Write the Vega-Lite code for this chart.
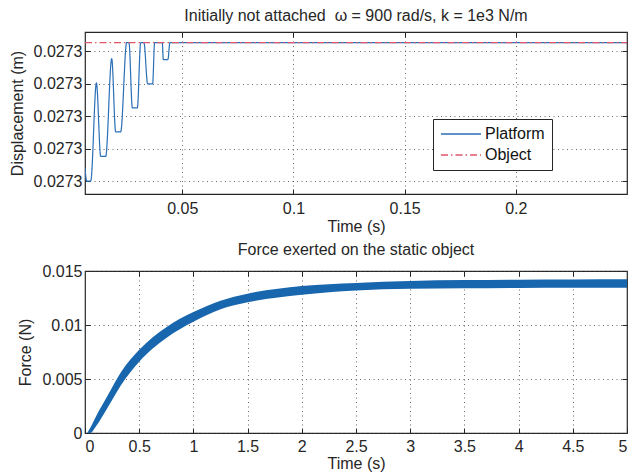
{
  "$schema": "https://vega.github.io/schema/vega-lite/v6.json",
  "background": "white",
  "padding": {"left": 8, "top": 6, "right": 2, "bottom": 2},
  "config": {
    "font": "Liberation Sans",
    "view": {"stroke": "#262626", "strokeWidth": 1.2},
    "axis": {
      "labelFont": "Liberation Sans", "labelFontSize": 16, "labelColor": "#262626",
      "titleFont": "Liberation Sans", "titleFontSize": 16, "titleFontWeight": "normal", "titleColor": "#262626",
      "domain": false, "tickColor": "#262626", "tickSize": -5, "tickWidth": 1,
      "gridColor": "#444444", "gridDash": [1, 3.5], "gridOpacity": 0.8, "gridWidth": 1
    },
    "title": {"font": "Liberation Sans", "fontSize": 16, "fontWeight": "normal", "color": "#262626", "offset": 8},
    "legend": {
      "orient": "none", "legendX": 348, "legendY": 87,
      "strokeColor": "#262626", "fillColor": "white", "padding": 7,
      "labelFont": "Liberation Sans", "labelFontSize": 16, "labelColor": "#111111", "labelOffset": 16,
      "symbolType": "M-8,0H8", "symbolSize": 25, "symbolOffset": 13, "symbolStrokeWidth": 1.3, "rowPadding": 5
    },
    "concat": {"spacing": 6}
  },
  "vconcat": [
    {
      "title": {"text": "Initially not attached\u00a0 ω = 900 rad/s, k = 1e3 N/m"},
      "width": 542,
      "height": 162,
      "data": {"values": [
        {"t": 0.00625, "d": 0.0272984, "series": "Platform"},
        {"t": 0.00703, "d": 0.027298, "series": "Platform"},
        {"t": 0.00883, "d": 0.027298, "series": "Platform"},
        {"t": 0.01139, "d": 0.02730103, "series": "Platform"},
        {"t": 0.01332, "d": 0.02729876, "series": "Platform"},
        {"t": 0.01556, "d": 0.02729876, "series": "Platform"},
        {"t": 0.01826, "d": 0.02730178, "series": "Platform"},
        {"t": 0.02005, "d": 0.02729952, "series": "Platform"},
        {"t": 0.0223, "d": 0.02729952, "series": "Platform"},
        {"t": 0.02499, "d": 0.02730227, "series": "Platform"},
        {"t": 0.02602, "d": 0.02730227, "series": "Platform"},
        {"t": 0.02755, "d": 0.02730026, "series": "Platform"},
        {"t": 0.0298, "d": 0.02730026, "series": "Platform"},
        {"t": 0.03128, "d": 0.02730227, "series": "Platform"},
        {"t": 0.03276, "d": 0.02730227, "series": "Platform"},
        {"t": 0.03442, "d": 0.027301, "series": "Platform"},
        {"t": 0.03666, "d": 0.027301, "series": "Platform"},
        {"t": 0.03756, "d": 0.02730227, "series": "Platform"},
        {"t": 0.04102, "d": 0.02730227, "series": "Platform"},
        {"t": 0.04147, "d": 0.02730175, "series": "Platform"},
        {"t": 0.04353, "d": 0.02730175, "series": "Platform"},
        {"t": 0.04443, "d": 0.02730227, "series": "Platform"},
        {"t": 0.25, "d": 0.02730227, "series": "Platform"},
        {"t": 0.00625, "d": 0.02730227, "series": "Object"},
        {"t": 0.25, "d": 0.02730227, "series": "Object"}
      ]},
      "layer": [
        {
          "transform": [{"filter": "datum.series === 'Platform'"}],
          "mark": {"type": "line", "interpolate": "monotone", "strokeWidth": 1.2, "clip": true},
          "encoding": {
            "x": {"field": "t", "type": "quantitative",
              "scale": {"domain": [0.00625, 0.25], "nice": false, "zero": false},
              "axis": {"values": [0.05, 0.1, 0.15, 0.2], "labelExpr": "toString(datum.value)", "title": "Time (s)", "labelPadding": 11, "titlePadding": 2}},
            "y": {"field": "d", "type": "quantitative",
              "scale": {"domain": [0.0272976, 0.0273026], "nice": false, "zero": false},
              "axis": {"values": [0.027298, 0.027299, 0.0273, 0.027301, 0.027302], "labelExpr": "format(datum.value, '.4f')", "title": "Displacement (m)", "labelPadding": 8, "titlePadding": 8}},
            "color": {"field": "series", "type": "nominal",
              "scale": {"domain": ["Platform", "Object"], "range": ["#2a6fb7", "#e0566b"]},
              "legend": {"title": null}},
            "strokeDash": {"field": "series", "type": "nominal",
              "scale": {"domain": ["Platform", "Object"], "range": [[1, 0], [7, 3, 1.5, 3]]},
              "legend": {"title": null}}
          }
        },
        {
          "transform": [{"filter": "datum.series === 'Object'"}],
          "mark": {"type": "line", "strokeWidth": 1.3, "clip": true},
          "encoding": {
            "x": {"field": "t", "type": "quantitative", "axis": null},
            "y": {"field": "d", "type": "quantitative", "axis": null},
            "color": {"field": "series", "type": "nominal", "legend": {"title": null}},
            "strokeDash": {"field": "series", "type": "nominal", "legend": {"title": null}}
          }
        },
        {
          "transform": [{"filter": "datum.series === 'Object'"}],
          "mark": {"type": "line", "opacity": 0},
          "encoding": {
            "x": {"field": "t", "type": "quantitative",
              "axis": {"orient": "top", "values": [0.05, 0.1, 0.15, 0.2], "labels": false, "grid": false, "title": null}},
            "y": {"field": "d", "type": "quantitative",
              "axis": {"orient": "right", "values": [0.027298, 0.027299, 0.0273, 0.027301, 0.027302], "labels": false, "grid": false, "title": null}}
          }
        }
      ],
      "resolve": {"axis": {"x": "independent", "y": "independent"}}
    },
    {
      "title": {"text": "Force exerted on the static object", "offset": 5},
      "width": 542,
      "height": 162,
      "data": {"values": [
        {"t": 0.02, "lo": 0, "hi": 0},
        {"t": 0.05, "lo": 0, "hi": 0.0005},
        {"t": 0.1, "lo": 0.0006, "hi": 0.0015},
        {"t": 0.2, "lo": 0.0022, "hi": 0.0033},
        {"t": 0.33, "lo": 0.0044, "hi": 0.0056},
        {"t": 0.5, "lo": 0.0066, "hi": 0.0077},
        {"t": 0.75, "lo": 0.0088, "hi": 0.0098},
        {"t": 1.0, "lo": 0.0103, "hi": 0.0112},
        {"t": 1.25, "lo": 0.01145, "hi": 0.01225},
        {"t": 1.5, "lo": 0.0121, "hi": 0.0129},
        {"t": 2.0, "lo": 0.0128, "hi": 0.01362},
        {"t": 2.5, "lo": 0.0132, "hi": 0.0139},
        {"t": 3.0, "lo": 0.01336, "hi": 0.01408},
        {"t": 3.5, "lo": 0.0134, "hi": 0.01416},
        {"t": 4.0, "lo": 0.01343, "hi": 0.0142},
        {"t": 4.5, "lo": 0.01344, "hi": 0.01422},
        {"t": 5.0, "lo": 0.01345, "hi": 0.01423}
      ]},
      "layer": [
        {
          "mark": {"type": "area", "color": "#1866ad", "interpolate": "monotone"},
          "encoding": {
            "x": {"field": "t", "type": "quantitative",
              "scale": {"domain": [0, 5], "nice": false},
              "axis": {"values": [0, 0.5, 1, 1.5, 2, 2.5, 3, 3.5, 4, 4.5, 5], "labelExpr": "toString(datum.value)", "title": "Time (s)", "labelPadding": 10, "titlePadding": 1}},
            "y": {"field": "lo", "type": "quantitative",
              "scale": {"domain": [0, 0.015], "nice": false},
              "axis": {"values": [0, 0.005, 0.01, 0.015], "labelExpr": "toString(datum.value)", "title": "Force (N)", "labelPadding": 8, "titlePadding": 8}},
            "y2": {"field": "hi"}
          }
        },
        {
          "mark": {"type": "area", "opacity": 0},
          "encoding": {
            "x": {"field": "t", "type": "quantitative",
              "axis": {"orient": "top", "values": [0.5, 1, 1.5, 2, 2.5, 3, 3.5, 4, 4.5], "labels": false, "grid": false, "title": null}},
            "y": {"field": "lo", "type": "quantitative",
              "axis": {"orient": "right", "values": [0.005, 0.01], "labels": false, "grid": false, "title": null}},
            "y2": {"field": "hi"}
          }
        }
      ],
      "resolve": {"axis": {"x": "independent", "y": "independent"}}
    }
  ]
}
